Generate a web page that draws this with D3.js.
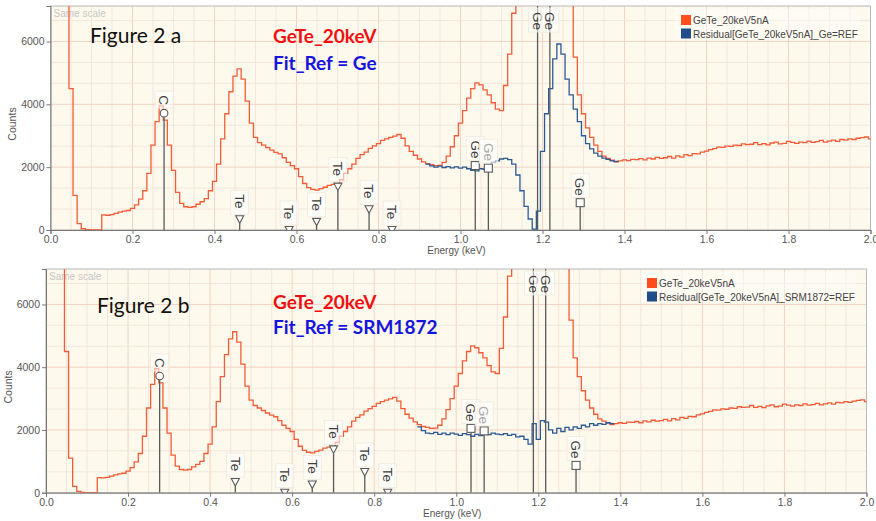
<!DOCTYPE html>
<html><head><meta charset="utf-8">
<script src="https://cdn.jsdelivr.net/npm/d3@7"></script>
<style>
body{margin:0;background:#fff;}
svg{display:block;}
text{font-family:"Liberation Sans",Arial,sans-serif;}
</style>
</head><body>
<svg id="chart" width="876" height="521"></svg>
<script>
// ---------- DATA ----------
const binStart = 0.035, binWidth = 0.01;   // channel left edge and width (keV)
const spectrumCounts = [
 12000,4500,1100,200,40,10,0,0,0,480,
 470,490,530,570,600,620,690,800,980,1250,
 1800,2700,3450,3950,3500,2700,1900,1200,850,740,
 720,740,820,900,1000,1250,1550,2100,2900,3700,
 4400,4900,5130,4800,4100,3400,2950,2780,2700,2620,
 2540,2470,2420,2300,2150,2050,1950,1700,1480,1350,
 1290,1270,1320,1360,1420,1450,1470,1600,1800,1950,
 2100,2280,2400,2480,2600,2680,2750,2850,2900,2950,
 2990,3040,2920,2680,2500,2380,2260,2170,2110,2080,
 2050,2060,2150,2350,2650,3000,3400,3800,4200,4500,
 4680,4620,4460,4300,4050,3850,3800,4600,5600,6900,
 9500,14000,22000,35000,48000,52000,50000,56000,54000,40000,
 26000,16000,10500,7400,5500,4300,3700,3250,2950,2700,
 2500,2350,2280,2220,2170,2200,
 2230,2210,2250,2240,2270,2230,2290,2260,2310,2280,
 2300,2340,2290,2360,2320,2400,2370,2430,2420,2480,
 2510,2560,2590,2640,2630,2670,2660,2700,2690,2740,
 2720,2730,2780,2720,2750,2710,2770,2800,2740,2760,
 2820,2790,2760,2800,2780,2830,2790,2810,2850,2800,
 2830,2860,2820,2880,2860,2900,2880,2920,2940,2960,
 2900
];
const residualGeStart = 0.915;
const residualGeCounts = [
 2100,2040,2000,2030,1990,2020,1980,2010,1970,2000,
 1950,1900,1880,1950,1930,2050,2150,2200,2260,2280,
 2240,2100,1750,1250,750,350,30,600,2500,3700,
 4500,5450,5920,5600,4800,4300,3850,3450,3000,2750,
 2580,2450,2350,2290,2250,2200,2180
];
const residualSrmStart = 0.905;
const residualSrmCounts = [
 2100,1980,1900,1880,1920,1860,1900,1850,1900,1870,
 1830,1880,1850,1800,1860,1820,1880,1850,1900,1870,
 1850,1880,1830,1860,1780,1800,1700,1550,2200,1700,
 2300,2250,2000,1900,2050,1950,2080,2000,2100,2050,
 2150,2100,2200,2150,2200,2180,2230,2200
];
const xTickValues = [0,0.2,0.4,0.6,0.8,1.0,1.2,1.4,1.6,1.8,2.0];
const yTickValues = [0,2000,4000,6000];
const markerEnergy  = [0.277,0.4615,0.582,0.649,0.701,0.777,0.833,1.036,1.068,1.188,1.218,1.292];
const markerElement = ["C","Te","Te","Te","Te","Te","Te","Ge","Ge","Ge","Ge","Ge"];
const markerCounts  = [3720,340,0,260,1380,660,0,2050,1970,null,null,870];
const markerShape   = ["circle","tri","tri","tri","tri","tri","tri","square","square","none","none","square"];
const markerFaded   = [false,false,false,false,false,false,false,false,true,false,false,false];
const seriesNames = ["GeTe_20keV5nA","Residual[GeTe_20keV5nA]_Ge=REF","Residual[GeTe_20keV5nA]_SRM1872=REF"];

// ---------- DRAW ----------
const svg = d3.select("#chart");
const RED = "#f25c37", BLUE = "#2b5a94";

function panel(cfg){
  const {x0,x1,y0,y1} = cfg;
  const g = svg.append("g");
  const x = d3.scaleLinear().domain([0,2]).range([x0,x1]);
  const y = d3.scaleLinear().domain([0,7130]).range([y1,y0]);
  const id = "clip"+cfg.key;
  svg.append("clipPath").attr("id",id).append("rect")
    .attr("x",x0).attr("y",y0).attr("width",x1-x0).attr("height",y1-y0);
  g.append("rect").attr("x",x0).attr("y",y0).attr("width",x1-x0).attr("height",y1-y0)
    .attr("fill","#fdf9ec");
  // grid
  const gx = d3.range(0,2.0001,0.05), gy = d3.range(0,7130,2000/3);
  g.append("g").selectAll("line").data(gx).join("line")
    .attr("x1",d=>x(d)).attr("x2",d=>x(d)).attr("y1",y0).attr("y2",y1)
    .attr("stroke",d=>Math.abs(d/0.2-Math.round(d/0.2))<1e-6?"#f3d3c6":"#f3e7dc").attr("stroke-width",1);
  g.append("g").selectAll("line").data(gy).join("line")
    .attr("x1",x0).attr("x2",x1).attr("y1",d=>y(d)).attr("y2",d=>y(d))
    .attr("stroke",(d,i)=>i%3===0?"#f3d3c6":"#f3e7dc").attr("stroke-width",1);
  g.append("rect").attr("x",x0).attr("y",y0).attr("width",x1-x0).attr("height",y1-y0)
    .attr("fill","none").attr("stroke","#b8b8b8");

  g.append("text").attr("x",x0+3).attr("y",y0+11).attr("font-size",10).attr("fill","#c8c8c8").text("Same scale");

  const line = d3.line().curve(d3.curveStepAfter).x(d=>x(d[0])).y(d=>y(Math.min(d[1],9000)));
  const toPts = (start,arr)=>{const p=arr.map((v,i)=>[start+i*binWidth,v]); p.push([start+arr.length*binWidth,arr[arr.length-1]]); return p;};
  const plot = g.append("g").attr("clip-path",`url(#${id})`);
  plot.append("path").attr("d",line(toPts(binStart,spectrumCounts))).attr("fill","none").attr("stroke",RED).attr("stroke-width",1.3);
  plot.append("path").attr("d",line(toPts(cfg.resStart,cfg.res))).attr("fill","none").attr("stroke",BLUE).attr("stroke-width",1.3);

  // KLM markers
  const mk = plot.append("g");
  markerEnergy.forEach((e,i)=>{
    const mx = x(e);
    const full = markerCounts[i]===null;
    const my = full ? y0 : y(markerCounts[i]);
    const col = "#5a5a5a";
    const top = markerShape[i]==="none" ? my : my+4;
    mk.append("line").attr("x1",mx).attr("x2",mx).attr("y1",y1).attr("y2",full?y0:top)
      .attr("stroke",col).attr("stroke-width",1.3);
    if(markerShape[i]==="circle")
      mk.append("circle").attr("cx",mx).attr("cy",my).attr("r",3.8).attr("fill","#fff").attr("stroke",col).attr("stroke-width",1.1);
    if(markerShape[i]==="tri")
      mk.append("path").attr("d",`M${mx-4},${my-3.5}L${mx+4},${my-3.5}L${mx},${my+4}Z`).attr("fill","#fff").attr("stroke",col).attr("stroke-width",1.1);
    if(markerShape[i]==="square")
      mk.append("rect").attr("x",mx-4).attr("y",my-4).attr("width",8).attr("height",8).attr("fill","#fff").attr("stroke",col).attr("stroke-width",1.1);
    // label
    const txt = markerElement[i];
    const len = txt.length===1?9:16;
    const ly = full ? y0+6 : my-9-len;
    mk.append("rect").attr("x",mx-9).attr("y",ly-4).attr("width",18).attr("height",len+8)
      .attr("fill","#fff").attr("fill-opacity",0.55).attr("stroke","#eeeae0").attr("stroke-width",0.8);
    mk.append("text").attr("transform",`translate(${mx},${ly}) rotate(90)`)
      .attr("dy","0.35em").attr("font-size",13.5).attr("fill",markerFaded[i]?"#a8a8a8":"#3c3c3c").text(txt);
  });

  // axes
  const ax = g.append("g").attr("transform",`translate(0,${y1})`)
    .call(d3.axisBottom(x).tickValues(xTickValues).tickFormat(d3.format(".1f")).tickSize(4).tickPadding(2));
  const ay = g.append("g").attr("transform",`translate(${x0},0)`)
    .call(d3.axisLeft(y).tickValues(yTickValues).tickFormat(d3.format("d")).tickSize(4).tickPadding(2));
  [ax,ay].forEach(a=>{a.selectAll("path").attr("stroke","#777");a.selectAll("line").attr("stroke","#777");
    a.selectAll("text").attr("fill","#555").attr("font-size",10.5).style("font-family","Liberation Sans, Arial");});
  g.append("text").attr("x",(x0+x1)/2-4).attr("y",y1+24).attr("text-anchor","middle").attr("font-size",10).attr("fill","#555").text("Energy (keV)");
  g.append("text").attr("transform",`translate(${cfg.countsX},${(y0+y1)/2+6}) rotate(-90)`).attr("text-anchor","middle")
    .attr("font-size",10.5).attr("fill","#555").text("Counts");

  // legend
  const L = g.append("g");
  L.append("rect").attr("x",cfg.legX-6).attr("y",cfg.legY-6).attr("width",cfg.legW).attr("height",30)
    .attr("fill","#fff").attr("fill-opacity",0.4);
  [["#ff4d1c",seriesNames[0]],["#1f4d8a",cfg.resName]].forEach((s,i)=>{
    L.append("rect").attr("x",cfg.legX).attr("y",cfg.legY+i*13.5).attr("width",10).attr("height",10).attr("fill",s[0]);
    L.append("text").attr("x",cfg.legX+12).attr("y",cfg.legY+9+i*13.5).attr("font-size",10).attr("fill","#444").text(s[1]);
  });

  // annotations
  g.append("text").attr("x",cfg.figX).attr("y",cfg.figY).attr("font-size",21).style("font-family","Lato, 'Open Sans', sans-serif").attr("fill","#111").text(cfg.fig);
  g.append("text").attr("x",273).attr("y",cfg.t1Y).attr("font-size",19).attr("font-weight","bold").style("font-family","Lato, 'Open Sans', sans-serif").attr("fill","#ee1111").text("GeTe_20keV");
  g.append("text").attr("x",273).attr("y",cfg.t2Y).attr("font-size",19).attr("font-weight","bold").style("font-family","Lato, 'Open Sans', sans-serif").attr("fill","#1515dd").text(cfg.fit);
}

panel({key:"a",x0:50.5,x1:870.5,y0:6,y1:230,resStart:residualGeStart,res:residualGeCounts,
  resName:seriesNames[1],legX:681,legY:15,legW:185,countsX:16,fig:"Figure 2 a",figX:90,figY:43,t1Y:43,t2Y:70,fit:"Fit_Ref = Ge"});
panel({key:"b",x0:46,x1:866.5,y0:269,y1:492.7,resStart:residualSrmStart,res:residualSrmCounts,
  resName:seriesNames[2],legX:647,legY:278,legW:215,countsX:12,fig:"Figure 2 b",figX:97,figY:313,t1Y:309,t2Y:334,fit:"Fit_Ref = SRM1872"});
</script>
</body></html>
